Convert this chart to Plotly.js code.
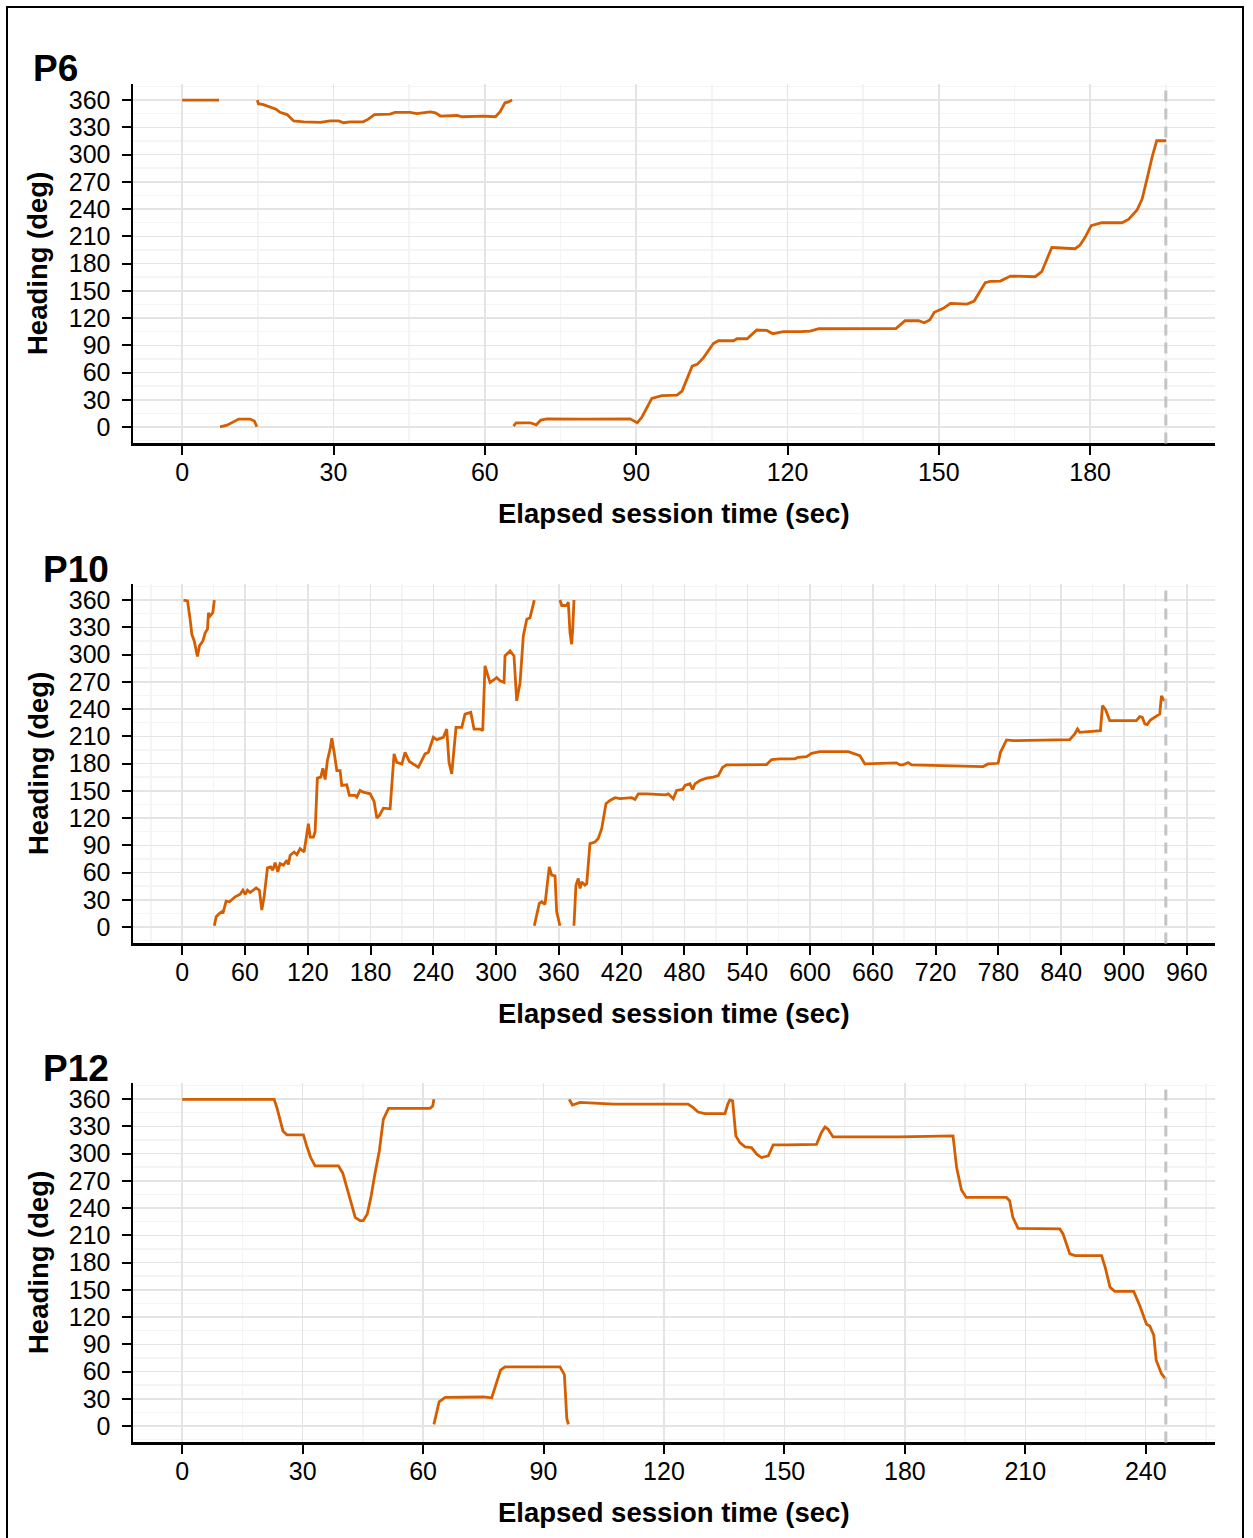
<!DOCTYPE html>
<html>
<head>
<meta charset="utf-8">
<script src="https://cdn.plot.ly/plotly-3.0.1.min.js"></script>
<style>
  html, body { margin: 0; padding: 0; background: #ffffff; }
  #wrap { position: relative; width: 1253px; height: 1538px; overflow: hidden; }
  #chart { position: absolute; left: 0; top: 0; width: 1253px; height: 1538px; }
  #frame { position: absolute; left: 6px; top: 6px; width: 1238px; height: 1560px;
           border: 2px solid #000; box-sizing: border-box; pointer-events: none; }
</style>
</head>
<body>
<div id="wrap">
  <div id="chart"></div>
  <div id="frame"></div>
</div>
<script>
// Heading traces per participant; null breaks the line where the heading wraps 360 -> 0.
const panelNames = ["P6", "P10", "P12"];
const sessionEnd = [195, 940, 245];

const p6Time = [
  0, 7.3, null,
  7.5, 8.9, 11.2, 13.5, 14.3, 14.8, null,
  14.9, 15.1, 16.1, 17.5, 18.6, 19.4, 20.8, 22.1, 24.1, 27.4, 29.3, 31.0, 32.0, 33.3, 35.9,
  36.9, 38.1, 41.2, 42.2, 45.2, 46.5, 49.2, 50.2, 51.2, 53.5, 54.5, 55.5, 59.7, 62.1, 63.0,
  64.0, 64.7, 65.4, null,
  65.7, 66.2, 69.0, 70.2, 71.1, 72.3, 79.6, 88.8, 90.2, 91.1, 93.1, 95.1, 98.1, 99.1, 101.1,
  102.1, 103.4, 105.3, 106.3, 109.3, 110.0, 112.0, 113.9, 115.9, 117.1, 119.2, 122.5, 124.5,
  126.2, 132.5, 141.5, 143.3, 146.0, 147.1, 148.2, 149.1, 150.9, 152.3, 155.6, 157.0, 159.2,
  160.2, 162.2, 164.2, 169.1, 170.4, 172.4, 173.4, 177.0, 178.0, 179.0, 180.2, 181.3, 182.3,
  186.3, 187.6, 189.3, 190.3, 191.3, 192.3, 193.2, 195.1
];
const p6Heading = [
  360, 360, null,
  0.3, 2, 8.8, 8.8, 6.6, 0.3, null,
  360, 356, 355, 352, 350, 346.5, 344, 337, 336, 335.5, 337, 337, 335, 336, 336,
  339, 344, 344.6, 346.5, 346.5, 345, 347, 346, 342.4, 342.4, 343, 341.6, 342.4, 341.6, 347,
  357, 358, 360, null,
  1, 4.7, 4.7, 2.5, 7.7, 9, 8.8, 9, 4.7, 10.6, 31.6, 34.5, 35.2, 39.6, 67,
  69, 76.7, 92, 95, 95, 97.2, 97.2, 106.8, 106.4, 102.8, 105, 105, 105.7,
  108.2, 108.2, 108.5, 117, 117, 114.8, 117.8, 126.3, 130.7, 136.2, 135.4, 138.7, 158.9,
  160.4, 160.7, 166.2, 165.5, 171, 197.8, 197.4, 196.3, 200.4, 208.9, 221.7, 223.2, 224.9,
  224.9, 228.6, 238.9, 251, 273.8, 297.6, 315.2, 315.2
];

const p10Time = [
  1.2, 5.1, 7.6, 9.3, 11.5, 14.6, 16.5, 19.8, 22.0, 24.2, 25.1, 26.7, 29.3, 30.7, null,
  30.7, 32.5, 35.6, 37.9, 38.9, 42.0, 45.2, 50.6, 55.4, 58.0, 60.2, 62.4, 65.0, 70.7, 73.8,
  76.1, 78.3, 81.5, 84.7, 86.6, 88.8, 91.4, 93.6, 96.8, 100.0, 101.5, 103.2, 107.0, 109.6,
  112.7, 116.5, 120.6, 122.3, 125.4, 127.0, 129.2, 132.5, 134.4, 136.6, 138.8, 141.4, 143.0,
  145.2, 147.8, 150.9, 152.5, 157.3, 159.8, 165.2, 166.9, 170.0, 173.2, 179.6, 183.4, 186.0,
  188.5, 192.3, 198.7, 202.5, 205.1, 209.9, 213.0, 217.1, 222.6, 225.7, 232.1, 235.3, 240.0,
  243.3, 249.6, 252.8, 255.0, 257.6, 261.7, 267.2, 270.3, 275.8, 278.9, 284.7, 287.2, 289.4,
  294.2, 300.6, 303.8, 307.6, 308.5, 313.3, 317.1, 319.7, 322.9, 326.0, 329.3, 332.4, 336.5, null,
  336.5, 338.1, 341.3, 343.6, 346.7, 350.8, 353.1, 356.3, 357.9, 361.0, null,
  361.0, 362.7, 367.5, 369.0, 370.6, 372.2, 373.2, 374.4, null,
  374.4, 376.3, 378.5, 380.2, 381.8, 384.9, 386.6, 389.7, 394.5, 397.6, 400.9, 405.0, 408.8,
  413.6, 418.4, 429.6, 432.7, 435.9, 443.9, 462.3, 464.5, 469.3, 472.5, 478.3, 480.5, 485.2,
  487.8, 490.0, 494.8, 501.2, 507.5, 512.3, 516.5, 520.3, 529.9, 558.5, 563.3, 571.2, 585.5,
  588.7, 596.7, 601.5, 609.4, 636.5, 647.6, 650.8, 652.4, 682.7, 685.8, 689.0, 693.8, 697.0,
  730.4, 749.5, 765.4, 770.2, 779.7, 782.0, 787.8, 794.1, 848.2, 853.0, 855.6, 857.8, 867.3,
  877.5, 879.5, 882.6, 886.4, 911.9, 915.1, 917.6, 919.9, 922.1, 925.3, 931.6, 934.2, 935.8,
  937.4, 939.0
];
const p10Heading = [
  360, 359, 338.8, 322, 315, 297.8, 309.5, 315, 324, 328, 346, 342.4, 346, 360, null,
  1.4, 11.3, 15, 16.8, 15, 28.5, 27.8, 33.3, 36.2, 40.6, 35.9, 40.6, 38, 43.1, 40.6,
  18.7, 33.3, 65.1, 66.2, 62.6, 71, 60.7, 69.9, 68, 73.5, 68.8, 79, 82.6, 79.7,
  86.3, 82.6, 113.8, 99.1, 99.1, 104.6, 163.9, 165, 174.8, 162.4, 183.3, 196.1, 207.8,
  192.4, 172.3, 172.3, 155.9, 156.6, 144.9, 144.9, 143, 150.4, 148.5, 146.7, 138.3, 120,
  122.9, 130.9, 130.2, 190.6, 181.4, 179.5, 192.4, 182.2, 178.6, 175.9, 190.6, 192.4, 208.9,
  206.3, 208.9, 218, 181.4, 168.7, 219.8, 219.8, 234.4, 236.3, 218, 218, 216.2, 287.6,
  269.2, 274.7, 271, 269.2, 298.5, 304, 298.5, 249, 269, 320.5, 338.8, 340.6, 360, null,
  1.4, 9.5, 26, 27.8, 24.9, 66.2, 57.1, 56.3, 16.8, 1.4, null,
  360, 354, 354, 357.8, 324.1, 311.4, 328, 360, null,
  1.4, 46.1, 53.4, 42.5, 49.7, 46.1, 47.9, 91.9, 93.6, 97.4, 108.3, 135.8, 139.4,
  142.4, 141.3, 142.4, 140.5, 146.7, 146.7, 145.6, 146.7, 141.3, 150.4, 151.5, 155.9, 157.7,
  151.5, 157.7, 161.3, 163.9, 165, 166.8, 175.9, 178.6, 178.6, 178.9, 184.4, 185.2, 185.2,
  186.9, 187.7, 191.3, 193.2, 193.2, 188.8, 183.3, 179.6, 180.8, 178.6, 178.6, 181.1, 178.6,
  177.8, 177.5, 176.7, 179.6, 180.3, 192.4, 206, 205.2, 206.3, 212.6, 218, 214.3, 215.4,
  216.2, 243.7, 239, 227.2, 227.2, 231.6, 230.8, 223.6, 222.8, 228, 232.7, 234.5, 254.6,
  250.9, 249.1
];

const p12Time = [
  0, 22.9, 23.6, 24.4, 25.1, 26.1, 30.2, 31.0, 32.0, 33.1, 38.9, 40.0, 41.4, 43.1, 44.3,
  45.1, 46.1, 47.0, 48.0, 49.1, 50.1, 51.4, 61.7, 62.4, 62.7, null,
  62.7, 64.0, 65.5, 74.2, 75.0, 77.1, 78.3, 79.3, 80.4, 94.1, 95.2, 95.8, 96.2, null,
  96.4, 97.2, 99.1, 105.7, 107.4, 126.0, 127.3, 128.5, 130.2, 135.2, 135.9, 136.4, 137.1,
  137.9, 138.9, 140.2, 141.8, 143.1, 144.3, 146.0, 147.2, 150.5, 158.0, 159.2, 160.1, 160.9,
  162.1, 178.7, 192.0, 192.9, 194.1, 195.3, 205.3, 206.1, 206.9, 208.2, 218.6, 219.4, 221.1,
  222.4, 229.0, 229.9, 231.1, 232.3, 237.0, 238.5, 240.2, 241.0, 242.0, 242.6, 243.9, 245.0
];
const p12Heading = [
  359.7, 359.7, 350.5, 335.9, 324.9, 320.5, 320.5, 308.4, 295.6, 286.5, 286.5, 278.4, 257.2, 229.7, 226.1,
  226.1, 233.4, 251.7, 277.4, 302.9, 337.7, 349.8, 349.8, 352.3, 359.7, null,
  1.9, 26.7, 31.5, 31.5, 32, 31.1, 46.9, 61.5, 65.1, 65.1, 56.7, 8.5, 1.9, null,
  359.7, 353.4, 356.4, 355.3, 354.5, 354.5, 350.5, 345.7, 343.9, 343.9, 354.5, 359, 358,
  319.4, 312, 307.3, 306.6, 299.3, 295.6, 297.4, 309.5, 309.5, 310.2, 323, 329.3, 326.7,
  318.3, 318.3, 319.4, 284.6, 259.8, 251.7, 251.7, 248, 229.7, 217.6, 217, 211.5, 189.6,
  187.7, 187.7, 174.8, 152.9, 148.2, 148.2, 132.8, 112, 110.1, 99.9, 72.4, 57.8, 51.3
];

const headingTicks = [0, 30, 60, 90, 120, 150, 180, 210, 240, 270, 300, 330, 360];
const timeTickStep = [30, 60, 30];

const xLabel = "Elapsed session time (sec)";
const yLabel = "Heading (deg)";

// ---- layout geometry (pixels) ----
const W = 1253, H = 1538;
const plotLeft = 133, plotRight = 1215;
const panelTop = [83.7, 583.7, 1082.7];
const panelBottom = [443.4, 943.4, 1442.4];
const titleLeft = [31, 41, 41];
const lineColor = "#D55E00";
const fontFamily = "Liberation Sans, Arial, Helvetica, sans-serif";

const series = [[p6Time, p6Heading], [p10Time, p10Heading], [p12Time, p12Heading]];

const traces = series.map((s, i) => ({
  type: "scatter",
  mode: "lines",
  x: s[0],
  y: s[1],
  xaxis: i === 0 ? "x" : "x" + (i + 1),
  yaxis: i === 0 ? "y" : "y" + (i + 1),
  connectgaps: false,
  line: { color: lineColor, width: 2.8 },
  hoverinfo: "skip",
  showlegend: false
}));

const layout = {
  width: W,
  height: H,
  margin: { l: 0, r: 0, t: 0, b: 0 },
  paper_bgcolor: "rgba(0,0,0,0)",
  plot_bgcolor: "#ffffff",
  font: { family: fontFamily, color: "#000000" },
  showlegend: false,
  shapes: [],
  annotations: []
};

const axisCommon = {
  showline: true,
  linecolor: "#000000",
  linewidth: 2.5,
  ticks: "outside",
  ticklen: 9,
  tickwidth: 2,
  tickcolor: "#000000",
  showgrid: true,
  gridcolor: "#e4e4e4",
  gridwidth: 1.5,
  zeroline: false,
  tickfont: { family: fontFamily, size: 25, color: "#000000" },
  fixedrange: true
};

for (let i = 0; i < 3; i++) {
  const s = i === 0 ? "" : String(i + 1);
  const end = sessionEnd[i];
  const pad = end * 0.05;
  const step = timeTickStep[i];
  layout["xaxis" + s] = Object.assign({}, axisCommon, {
    domain: [plotLeft / W, plotRight / W],
    anchor: "y" + s,
    range: [-pad, end + pad],
    tick0: 0,
    dtick: step,
    ticklabelstandoff: -4,
    minor: { showgrid: true, gridcolor: "#f4f4f4", gridwidth: 1.5, dtick: step / 2, tick0: 0 }
  });
  layout["yaxis" + s] = Object.assign({}, axisCommon, {
    domain: [1 - panelBottom[i] / H, 1 - panelTop[i] / H],
    anchor: "x" + s,
    range: [-18, 378],
    tickvals: headingTicks,
    ticklabelstandoff: 6,
    minor: { showgrid: true, gridcolor: "#f4f4f4", gridwidth: 1.5, dtick: 15, tick0: 0 }
  });

  // end-of-session marker, drawn over the grid
  layout.shapes.push({
    type: "line",
    xref: "x" + s, yref: "y" + s + " domain",
    x0: end, x1: end, y0: 0, y1: 1,
    line: { color: "#c4c4c4", width: 3, dash: "11px,7px" },
    layer: "above"
  });

  const off = panelTop[i] - panelTop[0];

  // panel title
  layout.annotations.push({
    text: "<b>" + panelNames[i] + "</b>",
    xref: "paper", yref: "paper",
    x: titleLeft[i] / W, y: 1 - (69 + off) / H,
    xanchor: "left", yanchor: "middle",
    showarrow: false,
    font: { family: fontFamily, size: 37, color: "#000000" }
  });
  // x axis title
  layout.annotations.push({
    text: "<b>" + xLabel + "</b>",
    xref: "paper", yref: "paper",
    x: (plotLeft + plotRight) / 2 / W, y: 1 - (513.5 + off) / H,
    xanchor: "center", yanchor: "middle",
    showarrow: false,
    font: { family: fontFamily, size: 27.5, color: "#000000" }
  });
  // y axis title
  layout.annotations.push({
    text: "<b>" + yLabel + "</b>",
    xref: "paper", yref: "paper",
    x: 38 / W, y: 1 - (264 + off) / H,
    xanchor: "center", yanchor: "middle",
    textangle: -90,
    showarrow: false,
    font: { family: fontFamily, size: 27.5, color: "#000000" }
  });
}

Plotly.newPlot("chart", traces, layout, { displayModeBar: false, staticPlot: true });
</script>
</body>
</html>
